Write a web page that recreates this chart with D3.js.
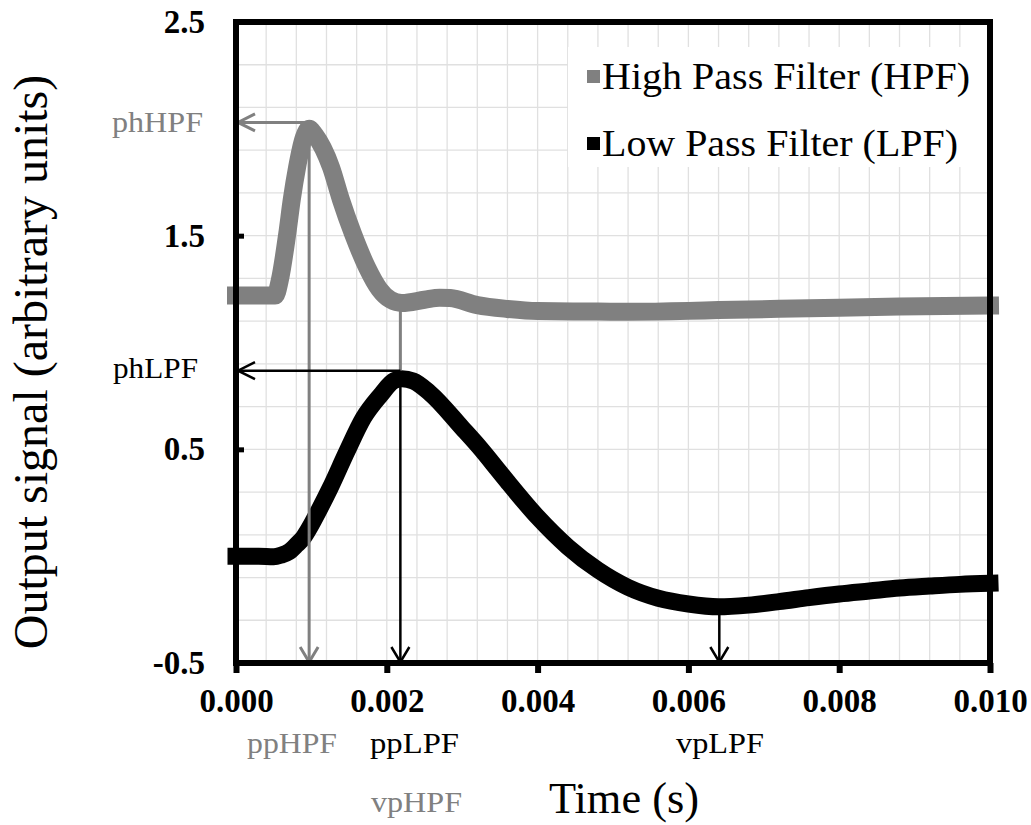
<!DOCTYPE html>
<html><head><meta charset="utf-8">
<script src="https://cdn.jsdelivr.net/npm/d3@7/dist/d3.min.js"></script>
<style>body{margin:0;background:#fff}svg{display:block}text{font-family:"Liberation Serif","Times New Roman",serif}</style>
</head><body>
<svg id="chart" width="1031" height="825"></svg>
<script>
// ---- data ----
const hpfTime  = [0, 0.0003, 0.00052, 0.00058, 0.00068, 0.00074, 0.00081, 0.0009, 0.00097, 0.00105, 0.00126, 0.00139, 0.00155, 0.00174, 0.0019, 0.00205, 0.0022, 0.0025, 0.0027, 0.00284, 0.0032, 0.0036, 0.004, 0.0048, 0.0052, 0.006, 0.0064, 0.0076, 0.0088, 0.01];
const hpfValue = [1.22, 1.22, 1.22, 1.29, 1.51, 1.67, 1.82, 1.96, 2.0, 1.97, 1.82, 1.67, 1.51, 1.35, 1.25, 1.2, 1.185, 1.2, 1.21, 1.208, 1.175, 1.157, 1.147, 1.145, 1.144, 1.148, 1.152, 1.16, 1.168, 1.173];
const lpfTime  = [0, 0.0003, 0.0005, 0.0006, 0.0007, 0.0008, 0.0009, 0.00097, 0.0011, 0.00125, 0.00147, 0.00169, 0.00191, 0.0021, 0.0022, 0.00235, 0.00257, 0.003, 0.00324, 0.00346, 0.0036, 0.004, 0.0044, 0.0048, 0.0052, 0.0056, 0.006, 0.0064, 0.0068, 0.0072, 0.0076, 0.008, 0.0084, 0.0088, 0.0092, 0.0096, 0.01];
const lpfValue = [0.0, 0.0, -0.003, 0.005, 0.02, 0.052, 0.09, 0.13, 0.215, 0.32, 0.489, 0.647, 0.751, 0.822, 0.83, 0.82, 0.764, 0.60, 0.505, 0.41, 0.349, 0.183, 0.044, -0.065, -0.146, -0.197, -0.224, -0.237, -0.229, -0.213, -0.194, -0.177, -0.163, -0.149, -0.14, -0.132, -0.127];

const xTicks = [0, 0.002, 0.004, 0.006, 0.008, 0.010];
const yTicks = [-0.5, 0.5, 1.5, 2.5];
const seriesNames = ["High Pass Filter (HPF)", "Low Pass Filter (LPF)"];

// annotation anchors (time, value)
const ppHPF = {t: 0.00097, top: 2.0, level: 2.03};
const ppLPF = {t: 0.00218, top: 0.868, level: 0.868};
const vpHPF = {t: 0.00218, top: 1.185};
const vpLPF = {t: 0.00641, top: -0.237};

// ---- layout ----
const svg = d3.select("#chart");
const X0 = 236, X1 = 990, Y0 = 22, Y1 = 663;
const x = d3.scaleLinear().domain([0, 0.01]).range([X0, X1]);
const y = d3.scaleLinear().domain([-0.5, 2.5]).range([Y1, Y0]);
const GRAY = "#808080";

// grid
const g = svg.append("g");
g.selectAll(".vg").data(d3.range(0, 26).map(i => i * 0.0004)).enter().append("line")
  .attr("x1", d => x(d)).attr("x2", d => x(d)).attr("y1", Y0).attr("y2", Y1)
  .attr("stroke", "#e0e0e0").attr("stroke-width", 1.3);
g.selectAll(".hg").data(d3.range(0, 16).map(i => -0.5 + i * 0.2)).enter().append("line")
  .attr("x1", X0).attr("x2", X1).attr("y1", d => y(d)).attr("y2", d => y(d))
  .attr("stroke", "#e0e0e0").attr("stroke-width", 1.3);

// legend background
svg.append("rect").attr("x", 568).attr("y", 47).attr("width", X1 - 568).attr("height", 120).attr("fill", "#fff");

// series lines
const line = d3.line().x(d => x(d[0])).y(d => y(d[1])).curve(d3.curveMonotoneX);
svg.append("path").datum(hpfTime.map((t, i) => [t, hpfValue[i]]))
  .attr("d", line).attr("fill", "none").attr("stroke", GRAY).attr("stroke-width", 18)
  .attr("stroke-linecap", "square").attr("stroke-linejoin", "round");
svg.append("path").datum(lpfTime.map((t, i) => [t, lpfValue[i]]))
  .attr("d", line).attr("fill", "none").attr("stroke", "#000").attr("stroke-width", 17)
  .attr("stroke-linecap", "square").attr("stroke-linejoin", "round");

// annotation arrows
function seg(x1, y1, x2, y2, color, w) {
  svg.append("line").attr("x1", x1).attr("y1", y1).attr("x2", x2).attr("y2", y2)
    .attr("stroke", color).attr("stroke-width", w);
}
function headDown(px, py, color, w) {
  svg.append("path").attr("d", `M${px - 9},${py - 15}L${px},${py}L${px + 9},${py - 15}`)
    .attr("fill", "none").attr("stroke", color).attr("stroke-width", w);
}
function headLeft(px, py, color, w) {
  svg.append("path").attr("d", `M${px + 17},${py - 8.5}L${px},${py}L${px + 17},${py + 8.5}`)
    .attr("fill", "none").attr("stroke", color).attr("stroke-width", w);
}
seg(x(0) + 2, y(ppHPF.level), x(ppHPF.t), y(ppHPF.level), GRAY, 3);
headLeft(x(0) + 2, y(ppHPF.level), GRAY, 3);
seg(x(ppHPF.t), y(ppHPF.top), x(ppHPF.t), y(-0.5) - 1, GRAY, 3);
headDown(x(ppHPF.t), y(-0.5) - 1, GRAY, 3);
seg(x(vpHPF.t), y(vpHPF.top), x(vpHPF.t), y(ppLPF.level), GRAY, 3);
seg(x(0) + 2, y(ppLPF.level), x(ppLPF.t), y(ppLPF.level), "#000", 2.5);
headLeft(x(0) + 2, y(ppLPF.level), "#000", 2.5);
seg(x(ppLPF.t), y(ppLPF.level), x(ppLPF.t), y(-0.5) - 1, "#000", 2.5);
headDown(x(ppLPF.t), y(-0.5) - 1, "#000", 2.5);
seg(x(vpLPF.t), y(vpLPF.top), x(vpLPF.t), y(-0.5) - 1, "#000", 2.5);
headDown(x(vpLPF.t), y(-0.5) - 1, "#000", 2.5);

// frame
svg.append("rect").attr("x", X0).attr("y", Y0).attr("width", X1 - X0).attr("height", Y1 - Y0)
  .attr("fill", "none").attr("stroke", "#000").attr("stroke-width", 6);

// axes
const fmtY = d => d3.format(".1f")(d).replace("\u2212", "-");
const yAxis = d3.axisLeft(y).tickValues(yTicks).tickFormat(fmtY)
  .tickSizeInner(-8).tickSizeOuter(0).tickPadding(31);
const ya = svg.append("g").attr("transform", `translate(${X0},0)`).call(yAxis);
ya.select(".domain").remove();
ya.selectAll(".tick line").attr("stroke", "#000").attr("stroke-width", 5);
ya.selectAll(".tick text").attr("font-family", "Liberation Serif").attr("font-weight", "bold")
  .attr("font-size", 33).attr("fill", "#000");

const xAxis = d3.axisBottom(x).tickValues(xTicks).tickFormat(d3.format(".3f"))
  .tickSizeInner(10).tickSizeOuter(0).tickPadding(16);
const xa = svg.append("g").attr("transform", `translate(0,${Y1})`).call(xAxis);
xa.select(".domain").remove();
xa.selectAll(".tick line").attr("stroke", "#000").attr("stroke-width", 6);
xa.selectAll(".tick text").attr("font-family", "Liberation Serif").attr("font-weight", "bold")
  .attr("font-size", 33).attr("fill", "#000");

// texts
function txt(s, px, py, size, color, len, anchor) {
  const t = svg.append("text").attr("x", px).attr("y", py).attr("font-size", size)
    .attr("fill", color).attr("text-anchor", anchor || "start").text(s);
  if (len) t.attr("textLength", len).attr("lengthAdjust", "spacingAndGlyphs");
  return t;
}
txt("phHPF", 112, 132, 29, GRAY, 91);
txt("phLPF", 113, 378, 29, "#000", 85);
txt("ppHPF", 247, 753, 29, GRAY, 90);
txt("ppLPF", 370, 753, 29, "#000", 89);
txt("vpHPF", 371, 812, 29, GRAY, 91);
txt("vpLPF", 676, 753, 29, "#000", 88);
txt("Time (s)", 549, 813, 45, "#000", 150);

svg.append("text").attr("transform", "translate(47,362) rotate(-90)")
  .attr("text-anchor", "middle").attr("font-size", 48).attr("fill", "#000")
  .text("Output signal (arbitrary units)");

// legend
const legColors = [GRAY, "#000"];
const legY = [89, 156];
const legLen = [368, 356];
seriesNames.forEach((n, i) => {
  svg.append("rect").attr("x", 587).attr("y", legY[i] - 19).attr("width", 13).attr("height", 13).attr("fill", legColors[i]);
  txt(n, 602, legY[i], 38, "#000", legLen[i]);
});
</script>
</body></html>
